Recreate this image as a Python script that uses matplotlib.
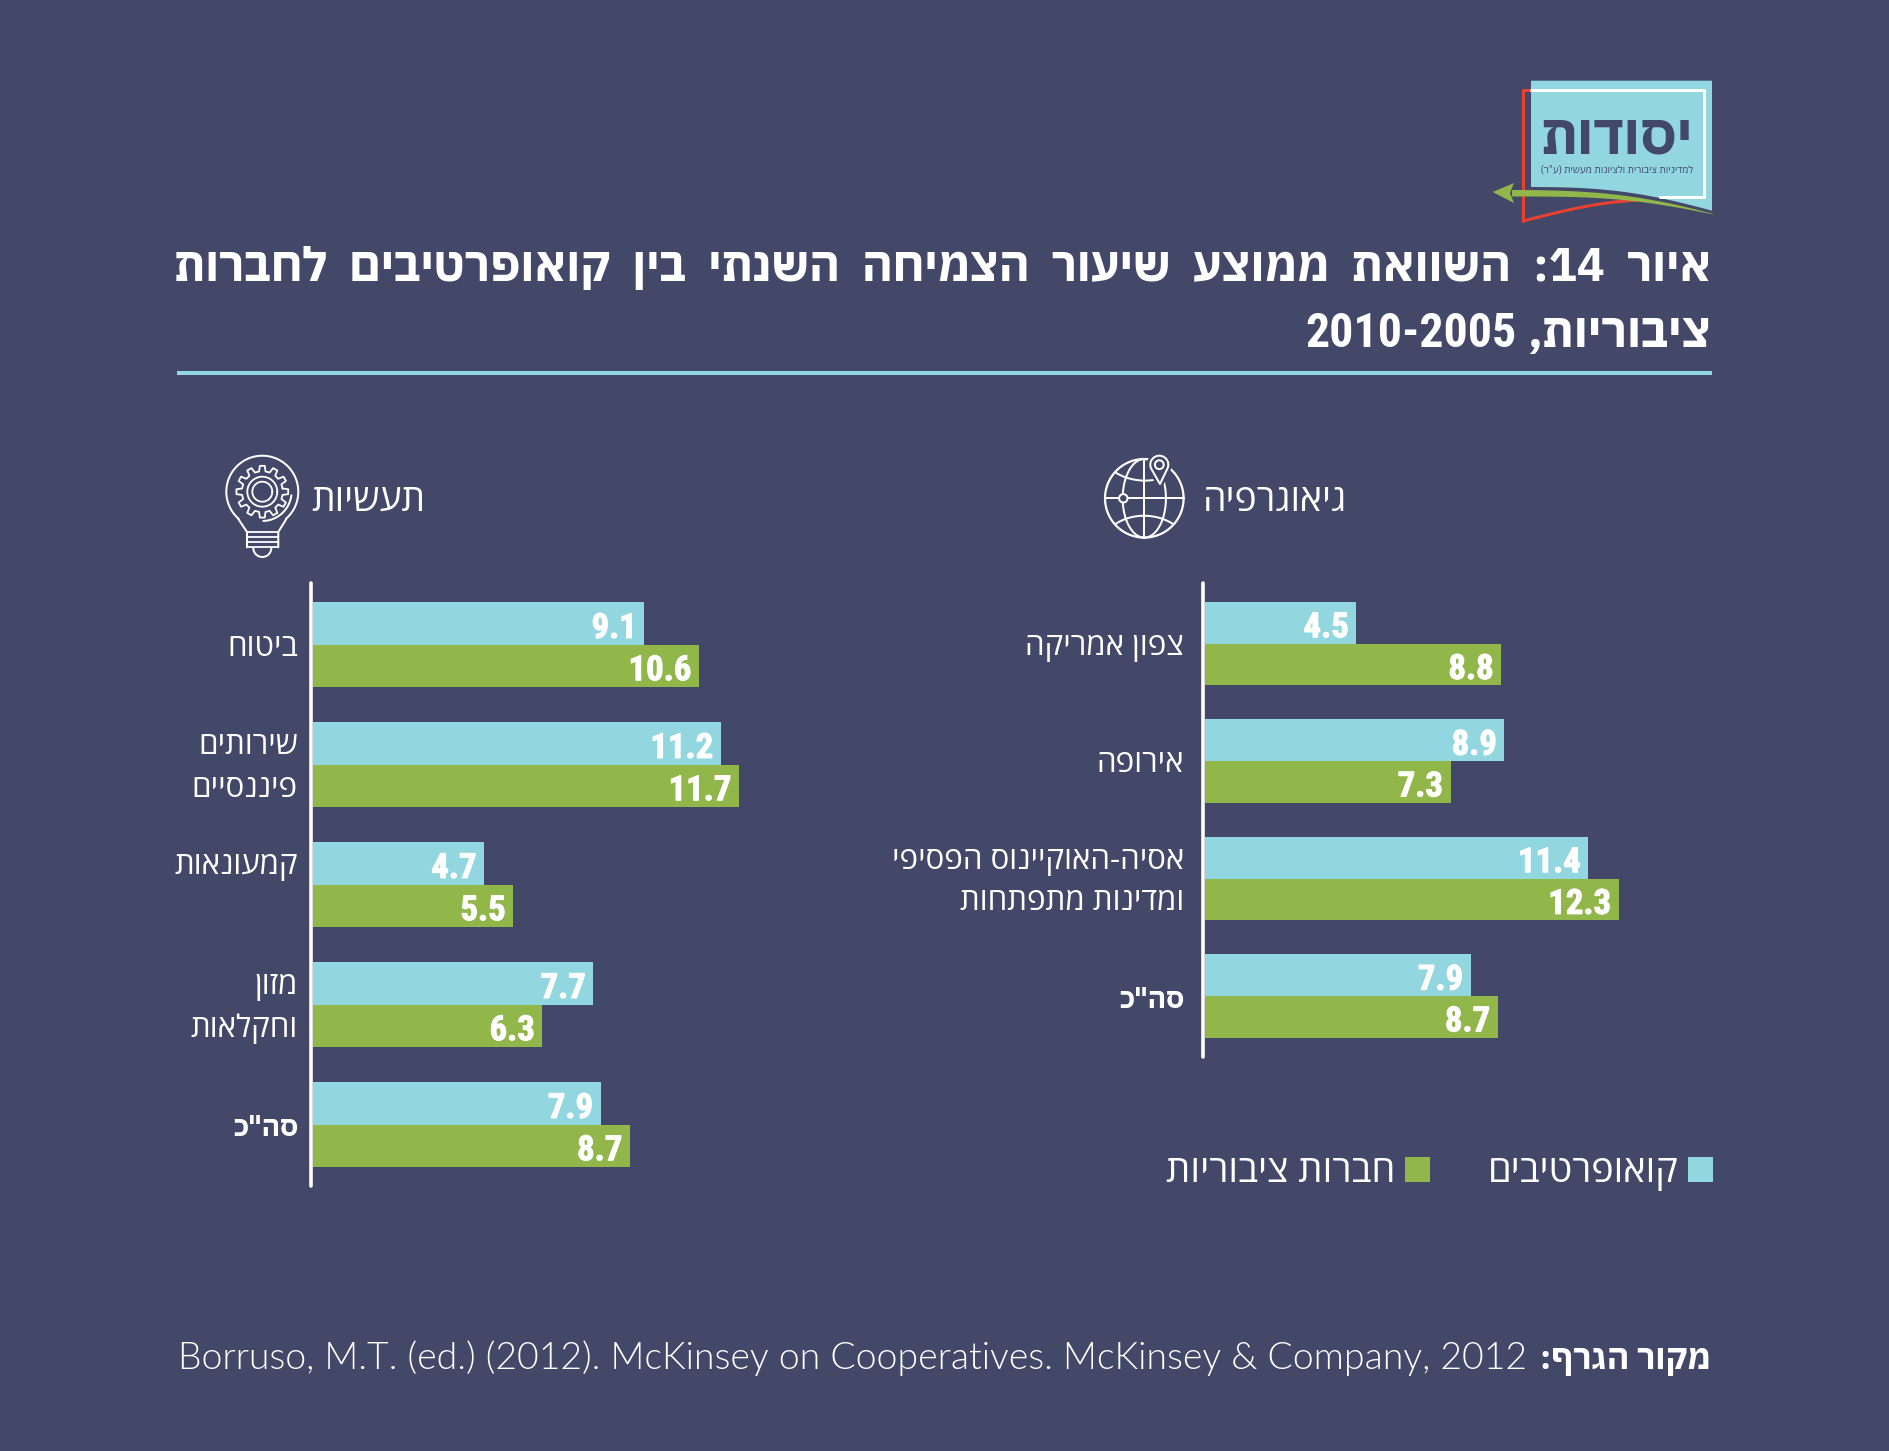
import re
import numpy as np
import matplotlib
matplotlib.use('Agg')
import matplotlib.pyplot as plt
from matplotlib.patches import Rectangle, Polygon
import matplotlib.patheffects as pe

# ---------- data ----------
industry_labels = ['ביטוח', 'שירותים\nפיננסיים', 'קמעונאות', 'מזון\nוחקלאות', 'סה"כ']
industry_coop = [9.1, 11.2, 4.7, 7.7, 7.9]
industry_public = [10.6, 11.7, 5.5, 6.3, 8.7]
geo_labels = ['צפון אמריקה', 'אירופה', 'אסיה-האוקיינוס הפסיפי\nומדינות מתפתחות', 'סה"כ']
geo_coop = [4.5, 8.9, 11.4, 7.9]
geo_public = [8.8, 7.3, 12.3, 8.7]
title_1 = 'איור  14:  השוואת  ממוצע  שיעור  הצמיחה  השנתי  בין  קואופרטיבים  לחברות'
title_2_word = 'ציבוריות,'
title_2_years = '2010-2005'
head_geo = 'גיאוגרפיה'
head_ind = 'תעשיות'
legend_coop = 'קואופרטיבים'
legend_public = 'חברות ציבוריות'
source_he = 'מקור הגרף:'
source_en = 'Borruso, M.T. (ed.) (2012). McKinsey on Cooperatives. McKinsey & Company, 2012'
logo_name = 'יסודות'
logo_sub = 'למדיניות ציבורית ולציונות מעשית (ע"ר)'

BG = '#434869'
TEAL = '#92D7E0'
GREEN = '#91B649'
RED = '#E8412F'
WHITE = '#FFFFFF'
W, H = 1890, 1451
BODY = ['Open Sans', 'DejaVu Sans']
BOLD = ['IBM Plex Sans Hebrew', 'Liberation Sans', 'DejaVu Sans']
NUM = ['Roboto Condensed', 'Roboto', 'DejaVu Sans']
LATIN = ['Lato', 'Open Sans', 'DejaVu Sans']


def vis(s):
    """Logical Hebrew string -> visual order, since matplotlib does not reorder."""
    tokens = re.findall(r'\d[\d.\-]*\d|\d|[^\d]+', s)
    swap = str.maketrans('()', ')(')
    return ''.join(t if t[0].isdigit() else t[::-1].translate(swap) for t in reversed(tokens))


def px(v):
    return v * 0.72


fig = plt.figure(figsize=(W / 100, H / 100), dpi=100, facecolor=BG)

# overlay in picture pixels for title, logo, icons
ov = fig.add_axes([0, 0, 1, 1])
ov.set_xlim(0, W)
ov.set_ylim(H, 0)
ov.axis('off')
renderer = fig.canvas.get_renderer()


def ptext(x, y, s, ha='right', size=20, family=BODY, weight='normal', color=WHITE, fit=None, **kw):
    t = ov.text(x, y, s, ha=ha, va='baseline', fontsize=size, family=family,
                weight=weight, color=color, **kw)
    if fit:
        t.set_fontsize(size * fit / t.get_window_extent(renderer).width)
    return t


def line(xs, ys, lw=2.0, color=WHITE, z=3, **kw):
    ov.plot(xs, ys, color=color, lw=px(lw), solid_capstyle='round', zorder=z, **kw)


def circle(cx, cy, r, lw=2.0, color=WHITE, t0=0, t1=360, z=3):
    t = np.radians(np.linspace(t0, t1, 181))
    line(cx + r * np.cos(t), cy + r * np.sin(t), lw, color, z)


def curve(p0, c0, c1, p1, n=40):
    t = np.linspace(0, 1, n)[:, None]
    a, b, c, d = map(np.array, (p0, c0, c1, p1))
    return (1 - t) ** 3 * a + 3 * (1 - t) ** 2 * t * b + 3 * (1 - t) * t ** 2 * c + t ** 3 * d


# title
tt = ptext(1711, 280.7, vis(title_1), size=37, family=BOLD, weight='bold', fit=1536.5)
tsize = tt.get_fontsize()
ptext(1711, 347.3, vis(title_2_word), size=tsize, family=BOLD, weight='bold', fit=184)
ptext(1517, 347.3, title_2_years, size=tsize, family=NUM, weight='bold', fit=212)
ov.add_patch(Rectangle((177, 371.2), 1535, 4.2, color=TEAL, lw=0))

# logo
bottom = curve((1531, 187), (1600, 187), (1640, 191), (1712, 210.7))
ov.add_patch(Polygon(np.vstack([[(1531, 80.7), (1712, 80.7)], bottom[::-1]]), color=TEAL, lw=0, zorder=1))
line([1523, 1531], [90, 90], 3, RED, 2)
line([1523, 1523], [90, 221], 3, RED, 2)
rc = curve((1523, 221), (1570, 209), (1600, 202), (1640, 200))
line(rc[:, 0], rc[:, 1], 3, RED, 2)
line([1531, 1704, 1704], [90, 90, 197], 3, WHITE, 2)
line([1660, 1704], [197, 197], 3, WHITE, 2)
top = curve((1512, 190), (1590, 190), (1640, 194), (1713, 214))
low = curve((1512, 196.5), (1590, 196.5), (1630, 197), (1713, 214.5))
ov.add_patch(Polygon(np.vstack([top, low[::-1]]), color=GREEN, lw=0, zorder=4))
ov.add_patch(Polygon([(1492.7, 192), (1514, 183), (1510, 193), (1514, 203)], color=GREEN, lw=0, zorder=4))
ptext(1692.7, 153.3, vis(logo_name), size=36, family=BOLD, weight='bold', color=BG, fit=152, zorder=3)
ptext(1692.7, 172, vis(logo_sub), size=9, family=BODY, color=BG, fit=152, zorder=3)

# headers and icons
ptext(1346.7, 511, vis(head_geo), size=28, fit=144)
ptext(425, 510.7, vis(head_ind), size=28, fit=114)

# globe icon
gx, gy, gr = 1144.3, 498.3, 39.3
circle(gx, gy, gr, 2.2)
line([gx - gr, gx + gr], [gy, gy])
line([gx, gx], [gy - gr, gy + gr])
t = np.radians(np.linspace(90, 270, 90))
line(gx + gr * 0.55 * np.cos(t), gy + gr * np.sin(t))
t = np.radians(np.linspace(-90, 90, 90))
line(gx + gr * 0.55 * np.cos(t), gy + gr * np.sin(t))
arc = curve((1115.5, 524), (1132, 513), (1156, 513), (1173, 524))
line(arc[:, 0], arc[:, 1])
arc = curve((1115.5, 472.5), (1126, 479), (1140, 482), (1153, 480))
line(arc[:, 0], arc[:, 1])
ov.add_patch(plt.Circle((1123.3, gy), 4.2, fc=BG, ec=WHITE, lw=px(2), zorder=5))
head = np.radians(np.linspace(150, 390, 70))
pin = np.column_stack([1159.3 + 9 * np.cos(head), 464.7 + 9 * np.sin(head)])
pin = np.vstack([pin[::-1], [(1160, 484)]])
ov.add_patch(Polygon(pin, closed=True, fc=BG, ec=BG, lw=px(7), zorder=5))
ov.add_patch(Polygon(pin, closed=True, fc=BG, ec=WHITE, lw=px(2), zorder=6, joinstyle='round'))
ov.add_patch(plt.Circle((1159.3, 464.7), 4.4, fc=BG, ec=WHITE, lw=px(2), zorder=7))

# bulb icon
bx, by, br = 262.3, 491.7, 36
circle(bx, by, br, 2.0, t0=131, t1=409)
line([238.3, 247, 247], [519, 532, 547.3])
line([286.3, 278.3, 278.3], [519, 532, 547.3])
for y in (532, 537, 542, 547.3):
    line([247, 278.3], [y, y], 1.8)
circle(bx, 548, 9, 2.0, t0=0, t1=180)
circle(bx, by, 29.3, 2.0, t0=7, t1=88)
teeth = 12
ang = []
rad = []
for k in range(teeth):
    base = 2 * np.pi * k / teeth
    step = 2 * np.pi / teeth
    ang += [base - step * 0.30, base - step * 0.18, base + step * 0.18, base + step * 0.30]
    rad += [20.5, 26, 26, 20.5]
ang = np.array(ang + ang[:1])
rad = np.array(rad + rad[:1])
line(bx + rad * np.cos(ang), by + rad * np.sin(ang), 1.8)
circle(bx, by, 15, 1.8)
circle(bx, by, 10, 1.8)

# legend
ov.add_patch(Rectangle((1687.5, 1156.7), 25.7, 25, color=TEAL, lw=0))
ov.add_patch(Rectangle((1405, 1156.7), 25.3, 25, color=GREEN, lw=0))
ptext(1678.5, 1182, vis(legend_coop), size=28, fit=191)
ptext(1395.3, 1182, vis(legend_public), size=28, fit=230.4)

# source
ptext(1711, 1369.3, vis(source_he), size=27, family=BOLD, weight='bold', fit=171)
ptext(178, 1369.3, source_en, ha='left', size=25, family=LATIN, weight=300, fit=1348)


def panel(x0, scale, xmax, top, bottom, centre0, pitch, bar_h, labels, coop, public, label_right, slots, gap):
    ax = fig.add_axes([x0 / W, 1 - bottom / H, scale * xmax / W, (bottom - top) / H])
    ax.set_xlim(0, xmax)
    ax.set_ylim((bottom - centre0) / pitch, (top - centre0) / pitch)
    ax.patch.set_alpha(0)
    h = bar_h / pitch
    ys = np.arange(len(labels))
    ax.barh(ys - h / 2, coop, height=h, color=TEAL, lw=0)
    ax.barh(ys + h / 2, public, height=h, color=GREEN, lw=0)
    for sp in ('top', 'right', 'bottom'):
        ax.spines[sp].set_visible(False)
    sl = ax.spines['left']
    sl.set_position(('outward', px(gap)))
    sl.set_color(WHITE)
    sl.set_linewidth(px(3.6))
    sl.set_capstyle('round')
    ax.set_xticks([])
    ax.set_yticks([])
    for y, a, b in zip(ys, coop, public):
        for v, yy in ((a, y - h / 2), (b, y + h / 2)):
            ax.annotate(f'{v:.1f}', xy=(v, yy), xytext=(px(-7.5), px(-14.5)), textcoords='offset points',
                        ha='right', va='baseline', fontsize=25, family=NUM, weight='bold', color=WHITE,
                        path_effects=[pe.withStroke(linewidth=px(1.0), foreground=WHITE)])
    dx = px(label_right - x0)
    for y, lab, slot in zip(ys, labels, slots):
        kw = dict(ha='right', va='baseline', color=WHITE, textcoords='offset points')
        if lab == 'סה"כ':
            ax.annotate(vis(lab), xy=(0, y), xytext=(dx + px(2), px(-11.5)), family=BOLD,
                        weight='bold', fontsize=20, **kw)
            continue
        parts = lab.split('\n')
        if slot == 'two':
            pos = [y - h / 2, y + h / 2]
        elif slot == 'top':
            pos = [y - h / 2]
        else:
            pos = [y]
        for part, yy in zip(parts, pos):
            ax.annotate(vis(part), xy=(0, yy), xytext=(dx + px(1), px(-11)), family=BODY, fontsize=22.5, **kw)
    return ax


panel(313, 36.42, 12.5, 582.7, 1186, 644.6, 120, 42.25, industry_labels, industry_coop, industry_public,
      297, ['mid', 'two', 'top', 'two', 'mid'], 1.6)
panel(1205, 33.64, 13, 582.7, 1056.7, 643.65, 117.45, 41.7, geo_labels, geo_coop, geo_public,
      1183, ['mid', 'mid', 'two', 'mid'], 2.4)

fig.savefig('out.png', dpi=100, facecolor=BG)
